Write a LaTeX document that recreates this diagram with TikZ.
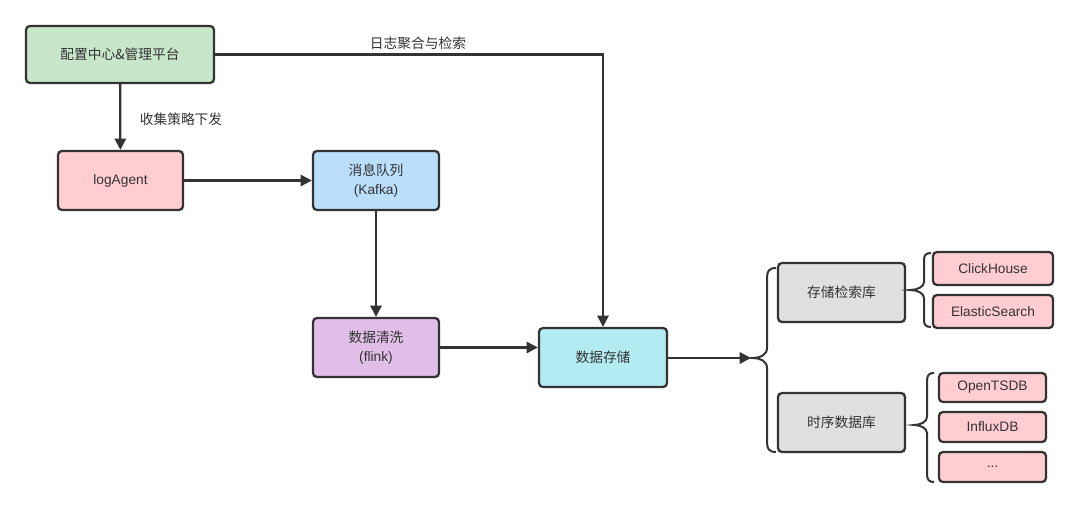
\documentclass[tikz,border=0pt]{standalone}
\usepackage{fontspec}
\setmainfont{Liberation Sans}
\newfontfamily\cjk{Noto Sans CJK SC}
\usetikzlibrary{arrows.meta}
\definecolor{ink}{HTML}{333333}
\definecolor{cgreen}{HTML}{C8E6C9}
\definecolor{cpink}{HTML}{FFCDD2}
\definecolor{cblue}{HTML}{BBDEFB}
\definecolor{cpurple}{HTML}{E1BEE7}
\definecolor{ccyan}{HTML}{B2EBF2}
\definecolor{cgray}{HTML}{E0E0E0}
\tikzset{
  box/.style={draw=ink, line width=1.7pt, rounded corners=3pt, inner sep=0pt, align=center,
    text=ink, font=\fontsize{10.3}{14}\selectfont},
  arr/.style={draw=ink, line width=1.7pt, -{Triangle[length=8.5pt,width=8.5pt]}},
  brc/.style={draw=ink, line width=1.5pt},
  lbl/.style={text=ink, font=\fontsize{10.3}{13}\selectfont\cjk, inner sep=0pt},
}
\begin{document}
\begin{tikzpicture}[x=0.75pt,y=-0.75pt]
\useasboundingbox[fill=white] (0,0) rectangle (1080,509);
% nodes
\node[box, fill=cgreen, minimum width=188*0.75pt, minimum height=57*0.75pt] (cfg) at (120,54.5) {\cjk 配置中心\&管理平台};
\node[box, fill=cpink, minimum width=125*0.75pt, minimum height=59*0.75pt] (la) at (120.5,180.5) {logAgent};
\node[box, fill=cblue, minimum width=126*0.75pt, minimum height=59*0.75pt] (kf) at (376,180.5) {{\cjk 消息队列}\\(Kafka)};
\node[box, fill=cpurple, minimum width=126*0.75pt, minimum height=59*0.75pt] (cl) at (376,347.5) {{\cjk 数据清洗}\\(flink)};
\node[box, fill=ccyan, minimum width=128*0.75pt, minimum height=59*0.75pt] (st) at (603,357.5) {\cjk 数据存储};
\node[box, fill=cgray, minimum width=127*0.75pt, minimum height=59*0.75pt] (ss) at (841.5,292.5) {\cjk 存储检索库};
\node[box, fill=cgray, minimum width=127*0.75pt, minimum height=59*0.75pt] (ts) at (841.5,422.5) {\cjk 时序数据库};
\node[box, fill=cpink, minimum width=120*0.75pt, minimum height=33*0.75pt] (ch) at (993,268.5) {ClickHouse};
\node[box, fill=cpink, minimum width=120*0.75pt, minimum height=33*0.75pt] (es) at (993,311.5) {ElasticSearch};
\node[box, fill=cpink, minimum width=107*0.75pt, minimum height=29*0.75pt] (ot) at (992.5,387.5) {OpenTSDB};
\node[box, fill=cpink, minimum width=107*0.75pt, minimum height=30*0.75pt] (ix) at (992.5,427) {InfluxDB};
\node[box, fill=cpink, minimum width=107*0.75pt, minimum height=30*0.75pt] (dt) at (992.5,467) {...};
% labels
\node[lbl] (l1) at (418,43) {日志聚合与检索};
\node[lbl] (l2) at (181,119) {收集策略下发};
% connectors
\draw[arr] (cfg) -- (la);
\draw[arr] (cfg.east) -- (cfg.east -| st) -- (st.north);
\draw[arr] (la) -- (kf);
\draw[arr] (kf) -- (cl);
\draw[arr] (cl.east) -- (cl.east -| st.west);
\coordinate (bt) at (751,358);
\draw[arr] (st.east |- bt) -- (bt);
% big brace
\draw[brc] (776,268) .. controls (769,268) and (767,271) .. (767,278) -- (767,348)
  .. controls (767,355) and (760,358) .. (753,358)
  .. controls (760,358) and (767,361) .. (767,368) -- (767,442)
  .. controls (767,449) and (769,452) .. (776,452);
% brace 1
\draw[brc] (931,253) .. controls (926,253) and (924,255) .. (924,260) -- (924,282)
  .. controls (924,287) and (917,290) .. (910,290)
  .. controls (917,290) and (924,293) .. (924,298) -- (924,320)
  .. controls (924,325) and (926,327) .. (931,327);
% brace 2
\draw[brc] (934,373) .. controls (929,373) and (927,375) .. (927,381) -- (927,417)
  .. controls (927,422) and (920,425) .. (914,425)
  .. controls (920,425) and (927,428) .. (927,433) -- (927,474)
  .. controls (927,480) and (929,482) .. (934,482);
\end{tikzpicture}
\end{document}
